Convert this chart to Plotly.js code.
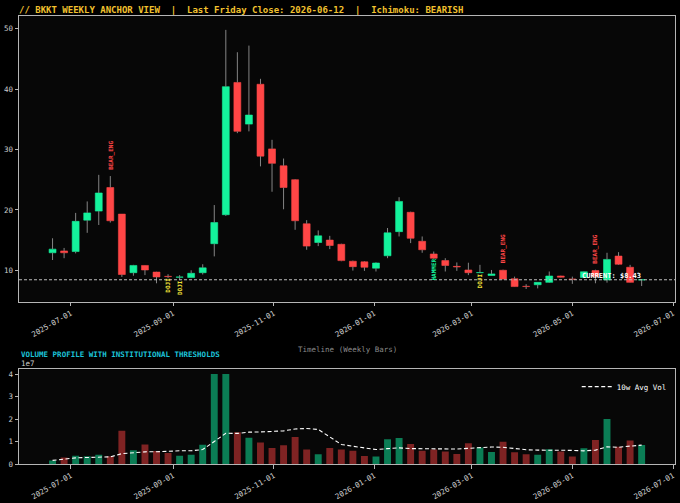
<!DOCTYPE html>
<html><head><meta charset="utf-8">
<script src="https://cdn.plot.ly/plotly-3.0.1.min.js"></script>
<style>html,body{margin:0;padding:0;background:#000;}#chart{width:680px;height:503px;}</style>
</head><body><div id="chart"></div>
<script>
// ---- data ----
const weeks = ['2025-06-20','2025-06-27','2025-07-04','2025-07-11','2025-07-18','2025-07-25','2025-08-01','2025-08-08','2025-08-15','2025-08-22','2025-08-29','2025-09-05','2025-09-12','2025-09-19','2025-09-26','2025-10-03','2025-10-10','2025-10-17','2025-10-24','2025-10-31','2025-11-07','2025-11-14','2025-11-21','2025-11-28','2025-12-05','2025-12-12','2025-12-19','2025-12-26',
  '2026-01-02','2026-01-09','2026-01-16','2026-01-23','2026-01-30','2026-02-06','2026-02-13','2026-02-20','2026-02-27','2026-03-06','2026-03-13','2026-03-20','2026-03-27','2026-04-03','2026-04-10','2026-04-17','2026-04-24','2026-05-01','2026-05-08','2026-05-15','2026-05-22','2026-05-29','2026-06-05','2026-06-12'];
const opens  = [12.9,13.2,13.1,18.3,19.8,23.7,19.3,9.6,10.8,9.7,9.0,8.85,8.8,9.6,14.4,19.2,41.1,34.2,40.8,30.1,27.3,25.0,17.7,14.6,15.0,14.3,11.5,11.4,10.35,12.4,16.4,19.6,14.8,12.7,11.6,10.65,10.05,9.6,9.15,10.0,8.6,7.35,7.6,8.0,9.05,8.55,8.8,9.95,8.4,12.35,10.5,8.4];
const highs  = [15.3,13.7,19.5,21.4,25.8,25.6,19.3,10.9,10.85,9.75,9.35,9.2,10.0,11.0,20.8,49.8,46.1,47.2,41.7,31.6,28.5,25.1,18.3,16.6,15.7,14.4,11.6,11.5,11.3,17.0,22.1,19.7,15.6,13.1,12.0,11.3,11.25,10.9,10.05,10.1,8.95,7.7,8.05,9.8,9.1,8.95,9.8,10.1,12.9,13.0,10.9,8.5];
const lows   = [11.7,12.0,12.8,16.2,17.5,17.9,8.9,9.1,9.2,7.85,8.7,8.4,8.7,9.3,12.3,19.0,32.7,33.0,27.2,23.0,20.1,16.7,13.4,14.0,13.5,11.5,9.95,9.9,9.8,12.0,15.6,14.5,12.9,11.9,9.8,9.9,9.2,9.55,9.1,8.5,7.25,6.9,7.0,7.9,8.8,7.75,8.7,7.85,7.95,10.9,7.95,7.4];
const closes = [13.5,12.9,18.1,19.5,22.8,18.2,9.3,10.8,10.05,8.9,8.95,8.9,9.5,10.4,17.9,40.4,33.0,35.7,28.9,27.7,23.7,18.2,14.0,15.7,14.1,11.6,10.6,10.5,11.2,16.2,21.4,15.3,13.4,12.0,10.8,10.55,9.6,9.62,9.4,8.55,7.3,7.3,8.0,9.05,8.85,8.5,9.75,8.95,11.8,11.0,8.0,8.43];
const volumes = [1.6e6,2.9e6,3.7e6,3.4e6,4.1e6,3.4e6,14.8e6,6.1e6,8.7e6,5.8e6,4.9e6,3.7e6,4.1e6,8.6e6,40.0e6,40.0e6,14.1e6,11.7e6,9.6e6,7.1e6,8.3e6,12.0e6,6.4e6,4.3e6,7.1e6,6.4e6,5.9e6,3.6e6,3.3e6,11.0e6,11.6e6,8.9e6,5.9e6,6.4e6,5.5e6,4.4e6,9.2e6,7.3e6,5.3e6,9.9e6,5.2e6,4.3e6,4.1e6,6.5e6,5.5e6,3.3e6,7.0e6,10.7e6,20.0e6,7.7e6,10.5e6,8.4e6];
const avgVol10w = [1.6e6,2.25e6,2.73e6,2.9e6,3.14e6,3.18e6,4.6e6,5.0e6,5.41e6,5.45e6,5.78e6,5.86e6,5.9e6,6.42e6,10.0e6,13.67e6,13.6e6,14.16e6,14.25e6,14.38e6,14.72e6,15.55e6,15.78e6,15.35e6,12.06e6,8.7e6,7.88e6,7.07e6,6.44e6,6.83e6,7.16e6,6.85e6,6.8e6,7.01e6,6.85e6,6.65e6,6.98e6,7.35e6,7.55e6,7.44e6,6.8e6,6.34e6,6.16e6,6.17e6,6.17e6,6.06e6,5.84e6,6.18e6,7.65e6,7.43e6,7.96e6,8.37e6];
const patternWeeks = ['2025-07-25','2025-08-29','2025-09-05','2026-02-06','2026-03-06','2026-03-20','2026-05-15'];
const patternNames = ['BEAR_ENG','DOJI','DOJI','HAMMER','DOJI','BEAR_ENG','BEAR_ENG'];
const dateTicks = ['2025-07-01','2025-09-01','2025-11-01','2026-01-01','2026-03-01','2026-05-01','2026-07-01'];
const priceTicks = [10,20,30,40,50];
const volTicks = [0,1e7,2e7,3e7,4e7];
const volTickText = ['0','1','2','3','4'];

// ---- styles ----
const MONO = 'DejaVu Sans Mono';
const UP = '#14f29c', DOWN = '#ff4646';
const UPV = '#0b7d55', DOWNV = '#7f2323';
const WICK = '#858585';
const BORDER = '#b5b5b5';
const DAY = 86400000;
const BODYW = 4.2 * DAY;

const isUp = closes.map((c, i) => c >= opens[i]);
const bodyBase = opens.map((o, i) => Math.min(o, closes[i]));
const bodyLen = opens.map((o, i) => Math.abs(closes[i] - o));

// wicks split above / below the body
const wx = [], wy = [];
weeks.forEach((d, i) => {
  const top = Math.max(opens[i], closes[i]), bot = Math.min(opens[i], closes[i]);
  if (highs[i] > top) { wx.push(d, d, null); wy.push(top, highs[i], null); }
  if (lows[i] < bot) { wx.push(d, d, null); wy.push(bot, lows[i], null); }
});

const traces = [
  { type: 'bar', x: weeks, y: bodyLen, base: bodyBase, width: BODYW, xaxis: 'x', yaxis: 'y',
    marker: { color: isUp.map(u => u ? UP : DOWN), line: { color: isUp.map(u => u ? UP : DOWN), width: 0.6 } },
    showlegend: false, hoverinfo: 'skip' },
  { type: 'scatter', mode: 'lines', x: wx, y: wy, xaxis: 'x', yaxis: 'y',
    line: { color: WICK, width: 1 }, showlegend: false, hoverinfo: 'skip', connectgaps: false },
  { type: 'bar', x: weeks, y: volumes, width: BODYW, xaxis: 'x2', yaxis: 'y2',
    marker: { color: isUp.map(u => u ? UPV : DOWNV), line: { width: 0 } }, showlegend: false, hoverinfo: 'skip' },
  { type: 'scatter', mode: 'lines', x: weeks, y: avgVol10w, xaxis: 'x2', yaxis: 'y2', name: '10w Avg Vol',
    line: { color: '#ffffff', width: 1.1, dash: '4px,2.5px' }, showlegend: true, hoverinfo: 'skip' }
];

const last = closes.length - 1;
const annotations = [];
patternWeeks.forEach((d, k) => {
  const i = weeks.indexOf(d);
  const name = patternNames[k];
  const above = name === 'BEAR_ENG';
  const col = name === 'BEAR_ENG' ? DOWN : (name === 'DOJI' ? '#f2e33a' : UP);
  annotations.push({
    x: d, y: above ? highs[i] : lows[i], xref: 'x', yref: 'y', text: name, showarrow: false,
    textangle: -90, xanchor: 'center', yanchor: above ? 'bottom' : 'top', yshift: above ? 5 : 1,
    font: { family: MONO, size: 6, color: col, weight: 'bold' }, borderpad: 0
  });
});
annotations.push({
  x: weeks[last], y: closes[last], xref: 'x', yref: 'y', text: 'CURRENT: $' + closes[last].toFixed(2),
  showarrow: false, xanchor: 'right', yanchor: 'bottom', yshift: -1, borderpad: 0,
  font: { family: MONO, size: 7, color: '#ffffff', weight: 'bold' }
});
annotations.push({
  x: 0.5, y: 0.2545, xref: 'paper', yref: 'paper', text: 'Timeline (Weekly Bars)', showarrow: false,
  xanchor: 'center', yanchor: 'middle', font: { family: MONO, size: 7.5, color: '#8a8a8a' }
});
annotations.push({
  x: 0, y: 0.2455, xref: 'paper', yref: 'paper', text: 'VOLUME PROFILE WITH INSTITUTIONAL THRESHOLDS', showarrow: false,
  xanchor: 'left', yanchor: 'middle', font: { family: MONO, size: 7.5, color: '#1cc3d9', weight: 'bold' }
});
annotations.push({
  x: 0, y: 0.2254, xref: 'paper', yref: 'paper', text: '1e7', showarrow: false,
  xanchor: 'left', yanchor: 'middle', font: { family: MONO, size: 7.5, color: '#cccccc' }
});

const xRange = ['2025-05-30 16:00', '2026-07-02 05:00'];
const axBase = {
  showline: true, mirror: true, linecolor: BORDER, linewidth: 1, showgrid: false, zeroline: false,
  ticks: 'outside', ticklen: 3.5, tickcolor: BORDER, tickwidth: 1,
  tickfont: { family: MONO, size: 7.5, color: '#cccccc' }
};
const xAx = Object.assign({}, axBase, {
  type: 'date', range: xRange, tickmode: 'array', tickvals: dateTicks, ticktext: dateTicks,
  tickangle: -30, automargin: false
});

const layout = {
  width: 680, height: 503,
  paper_bgcolor: '#000000', plot_bgcolor: '#070707',
  margin: { l: 19, r: 5, t: 16, b: 39 },
  title: { text: '// BKKT WEEKLY ANCHOR VIEW  |  Last Friday Close: 2026-06-12  |  Ichimoku: BEARISH',
    x: 0, xref: 'paper', xanchor: 'left', y: 0.981, yref: 'container', yanchor: 'middle',
    font: { family: MONO, size: 9, color: '#f2c12e', weight: 'bold' } },
  xaxis: Object.assign({}, xAx, { domain: [0, 1], anchor: 'y' }),
  yaxis: Object.assign({}, axBase, { domain: [0.3623, 1], range: [4.8, 52.1], tickmode: 'array', tickvals: priceTicks, anchor: 'x', automargin: false }),
  xaxis2: Object.assign({}, xAx, { domain: [0, 1], anchor: 'y2' }),
  yaxis2: Object.assign({}, axBase, { domain: [0, 0.2114], range: [0, 4.21e7], tickmode: 'array', tickvals: volTicks, ticktext: volTickText, anchor: 'x2', automargin: false }),
  barmode: 'overlay',
  showlegend: true,
  legend: { x: 0.995, xanchor: 'right', y: 0.205, yanchor: 'top', bgcolor: 'rgba(0,0,0,0)',
    font: { family: MONO, size: 7.5, color: '#ffffff' }, itemwidth: 30, tracegroupgap: 0 },
  shapes: [{ type: 'line', xref: 'paper', x0: 0, x1: 1, yref: 'y', y0: closes[last], y1: closes[last],
    line: { color: '#bdbdbd', width: 1, dash: '3px,2px' } }],
  annotations: annotations,
  hovermode: false
};

Plotly.newPlot('chart', traces, layout, { staticPlot: true, displayModeBar: false });
</script>
</body></html>
